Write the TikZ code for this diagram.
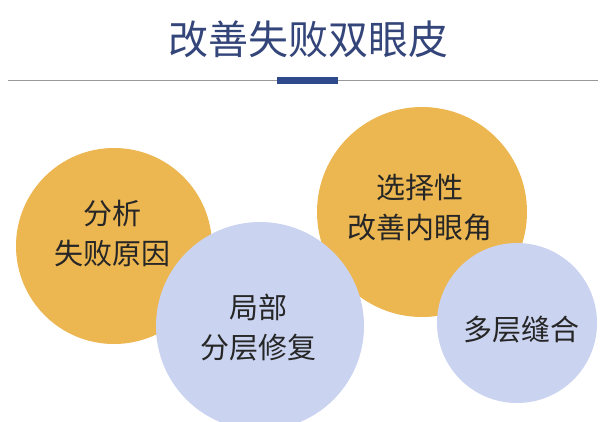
\documentclass[tikz,border=0pt]{standalone}
\usepackage{fontspec}
\setmainfont{Noto Sans CJK SC}
\usepackage{xcolor}
\usepackage{tikz}

\definecolor{gold}{HTML}{ECB651}
\definecolor{lilac}{HTML}{CAD3EF}
\definecolor{navy}{HTML}{34457A}
\definecolor{barblue}{HTML}{2E4A8C}
\definecolor{ink}{HTML}{262626}

\begin{document}
\begin{tikzpicture}[x=1pt,y=-1pt,
		yellowball/.style={circle, fill=gold, inner sep=0pt},
		blueball/.style={circle, fill=lilac, inner sep=0pt},
		balltext/.style={align=center, text=ink, font=\fontsize{29}{40}\selectfont}]
		\useasboundingbox (0,0) rectangle (601,421);
		\clip (0,0) rectangle (601,421);
		\node[text=navy, font=\fontsize{40}{48}\selectfont] at (308,39) (title){改善失败双眼皮};
		\coordinate (ruleL) at (8,80);
		\coordinate (ruleR) at (598,80);
		\draw[line width=1pt, color=black!40] (ruleL) -- (ruleR);
		\node[fill=barblue, inner sep=0pt, minimum width=61pt, minimum height=7pt] at (307.5,80.5) (bar){};
		\node[yellowball, minimum size=196pt] at (114,246) (c1){};
		\node[yellowball, minimum size=210pt] at (422,212) (c3){};
		\node[blueball, minimum size=208pt] at (260,326) (c2){};
		\node[blueball, minimum size=160pt] at (517,323) (c4){};
		\node[balltext] at (112,233) (t1){分析\\失败原因};
		\node[balltext] at (420,208) (t3){选择性\\改善内眼角};
		\node[balltext] at (258,328) (t2){局部\\分层修复};
		\node[balltext] at (521,330) (t4){多层缝合};

	\end{tikzpicture}
\end{document}
